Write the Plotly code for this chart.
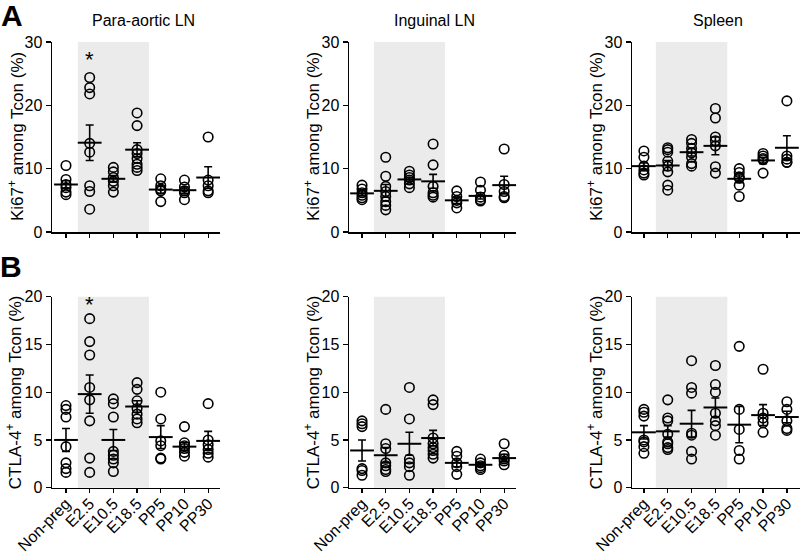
import plotly.graph_objects as go

categories = ["Non-preg", "E2.5", "E10.5", "E18.5", "PP5", "PP10", "PP30"]
tissues = ["Para-aortic LN", "Inguinal LN", "Spleen"]

# Row A: Ki67+ among Tcon (%)
ki67_para = [
    [10.5, 8.3, 7.5, 7.0, 6.3, 5.9],
    [24.4, 22.8, 21.8, 14.0, 12.6, 7.3, 6.4, 3.6],
    [10.2, 9.5, 8.6, 8.0, 7.3, 6.3],
    [18.8, 16.8, 13.0, 12.4, 11.6, 10.7, 10.2, 9.7],
    [8.4, 7.3, 6.8, 6.5, 4.8],
    [8.2, 7.1, 6.5, 6.2, 5.1],
    [15.0, 8.2, 7.3, 6.5, 6.2],
]
ki67_ing = [
    [7.4, 6.8, 6.2, 5.8, 5.4, 5.1],
    [11.8, 8.8, 7.2, 6.4, 5.6, 4.8, 4.2, 3.5],
    [9.6, 9.0, 8.6, 8.2, 7.6, 7.0],
    [13.9, 10.6, 7.2, 6.2, 5.8, 5.5],
    [6.5, 5.6, 5.0, 4.6, 3.8],
    [7.9, 6.6, 5.5, 5.1, 4.9],
    [13.1, 7.5, 6.4, 5.6, 5.4],
]
ki67_spl = [
    [12.8, 11.8, 10.4, 9.8, 9.3, 9.0],
    [13.3, 13.0, 12.6, 11.2, 10.4, 9.5, 7.4, 6.6],
    [14.6, 14.0, 13.2, 12.5, 11.8, 10.8, 10.4],
    [19.5, 18.0, 15.0, 14.4, 13.6, 10.3, 9.3],
    [10.0, 9.4, 8.7, 8.5, 7.4, 5.6],
    [12.4, 12.0, 11.4, 11.6, 9.3],
    [20.7, 12.0, 11.5, 11.0, 11.0],
]
ki67_mean = [
    [7.5, 14.1, 8.4, 13.0, 6.7, 6.6, 8.6],
    [6.1, 6.5, 8.3, 8.0, 5.0, 5.7, 7.4],
    [10.4, 10.5, 12.6, 13.6, 8.4, 11.3, 13.3],
]
ki67_sem = [
    [0.6, 2.8, 0.5, 1.1, 0.6, 0.5, 1.7],
    [0.4, 1.0, 0.3, 1.1, 0.5, 0.5, 1.4],
    [0.5, 0.8, 0.6, 1.4, 0.6, 0.5, 1.9],
]

# Row B: CTLA-4+ among Tcon (%)
ctla_para = [
    [8.6, 8.2, 7.4, 4.3, 2.6, 2.0, 1.6],
    [17.7, 15.3, 13.9, 10.5, 9.2, 7.0, 3.1, 1.6],
    [9.3, 8.8, 7.4, 3.8, 3.4, 3.0, 2.6, 1.7],
    [11.0, 10.3, 9.1, 8.3, 7.7, 7.2, 6.8],
    [10.0, 7.2, 4.9, 4.4, 3.1, 3.0],
    [6.4, 4.7, 4.4, 4.1, 3.7, 3.3],
    [8.8, 5.0, 4.5, 4.0, 3.6, 3.2],
]
ctla_ing = [
    [7.0, 6.7, 6.4, 2.0, 1.8, 1.3],
    [8.2, 4.6, 4.1, 2.6, 2.3, 1.9, 1.7],
    [10.5, 7.2, 3.0, 2.6, 2.2, 1.3],
    [9.2, 8.7, 5.2, 4.6, 4.2, 3.9, 3.5, 3.1],
    [3.8, 3.3, 2.6, 2.2, 1.4],
    [3.0, 2.6, 2.3, 2.1, 1.9],
    [4.6, 3.4, 3.0, 2.8, 2.4],
]
ctla_spl = [
    [8.2, 7.9, 7.5, 5.0, 4.8, 4.3, 3.6],
    [9.2, 7.3, 7.0, 5.6, 4.8, 4.6, 4.2, 4.0],
    [13.3, 10.5, 9.9, 5.7, 5.5, 3.8, 3.0],
    [12.8, 10.8, 10.0, 7.8, 7.0, 6.5, 5.5],
    [14.8, 8.2, 6.1, 3.9, 3.0],
    [12.4, 7.8, 7.3, 6.8, 5.8],
    [9.0, 8.2, 7.0, 6.2, 6.0],
]
ctla_mean = [
    [5.0, 9.8, 5.0, 8.5, 5.3, 4.3, 4.9],
    [3.9, 3.4, 4.6, 5.2, 2.6, 2.4, 3.1],
    [5.8, 5.9, 6.7, 8.4, 6.6, 7.6, 7.4],
]
ctla_sem = [
    [1.2, 2.0, 1.1, 0.6, 1.2, 0.4, 1.0],
    [1.1, 0.8, 1.2, 0.8, 0.4, 0.2, 0.4],
    [0.7, 0.6, 1.4, 1.0, 1.9, 1.1, 0.6],
]

row_a = [ki67_para, ki67_ing, ki67_spl]
row_b = [ctla_para, ctla_ing, ctla_spl]

W, H = 800, 557
FONT = "Liberation Sans, Arial, sans-serif"

# panel geometry in pixels
x_px = [(52, 220), (349, 516), (632, 800)]
x_ranges = [[-0.59, 6.5], [-0.55, 6.5], [-0.5, 6.55]]
y_px = {"A": (42, 232), "B": (296.7, 487.7)}

fig = go.Figure()
layout = dict(width=W, height=H,
              margin=dict(l=0, r=0, t=0, b=0, pad=0, autoexpand=False),
              autosize=False,
              paper_bgcolor="white", plot_bgcolor="white", showlegend=False,
              font=dict(family=FONT, color="black"))
shapes = []
annotations = []

def add_panel(idx, data, means, sems, ymax, dtick, row, col, title):
    xa = "xaxis" if idx == 1 else f"xaxis{idx}"
    ya = "yaxis" if idx == 1 else f"yaxis{idx}"
    xr = "x" if idx == 1 else f"x{idx}"
    yr = "y" if idx == 1 else f"y{idx}"
    px0, px1 = x_px[col]
    py0, py1 = y_px[row]
    layout[xa] = dict(domain=[px0 / W, px1 / W], range=x_ranges[col], anchor=yr,
                      automargin=False,
                      tickvals=list(range(len(categories))), ticktext=categories,
                      showticklabels=(row == "B"), tickangle=-45,
                      ticklabelstandoff=-5,
                      ticks="outside", ticklen=4, tickwidth=1.3, tickcolor="black",
                      showline=True, linecolor="black", linewidth=1.5,
                      showgrid=False, zeroline=False,
                      tickfont=dict(size=16, family=FONT, color="black"))
    layout[ya] = dict(domain=[1 - py1 / H, 1 - py0 / H], range=[0, ymax], anchor=xr,
                      automargin=False,
                      tick0=0, dtick=dtick, ticks="outside", ticklen=5, tickwidth=1.3,
                      tickcolor="black", showline=True, linecolor="black", linewidth=1.5,
                      showgrid=False, zeroline=False,
                      tickfont=dict(size=16, family=FONT, color="black"))
    shapes.append(dict(type="rect", xref=xr, yref=f"{yr} domain", x0=0.5, x1=3.5,
                       y0=0, y1=1, fillcolor="#ebebeb", line=dict(width=0), layer="below"))
    for i, vals in enumerate(data):
        fig.add_trace(go.Scatter(
            x=[i] * len(vals), y=vals, mode="markers", xaxis=xr, yaxis=yr,
            marker=dict(symbol="circle", size=9.5, color="rgba(0,0,0,0)",
                        line=dict(color="black", width=1.6)),
            hoverinfo="skip", cliponaxis=False))
    fig.add_trace(go.Scatter(
        x=list(range(len(categories))), y=means, mode="markers", xaxis=xr, yaxis=yr,
        marker=dict(symbol="line-ew", size=17, line=dict(color="black", width=2)),
        error_y=dict(type="data", array=sems, visible=True, color="black",
                     thickness=1.6, width=4),
        hoverinfo="skip", cliponaxis=False))
    if row == "A":
        cx = (px0 + px1) / 2
        annotations.append(dict(text=title, xref="paper", yref="paper",
                                x=(cx + 7 if col == 0 else cx + 2) / W, y=1 - 20 / H,
                                showarrow=False, font=dict(size=16, family=FONT),
                                xanchor="center", yanchor="middle"))


titles_y = {"A": "Ki67<sup>+</sup> among Tcon (%)", "B": "CTLA-4<sup>+</sup> among Tcon (%)"}

idx = 1
for col in range(3):
    add_panel(idx, row_a[col], ki67_mean[col], ki67_sem[col], 30, 10, "A", col, tissues[col])
    idx += 1
for col in range(3):
    add_panel(idx, row_b[col], ctla_mean[col], ctla_sem[col], 20, 5, "B", col, tissues[col])
    idx += 1

# y-axis titles
title_x = {"A": [16, 312, 595], "B": [14, 312, 595]}
for row in ["A", "B"]:
    py0, py1 = y_px[row]
    for col in range(3):
        annotations.append(dict(text=titles_y[row], xref="paper", yref="paper",
                                x=title_x[row][col] / W, y=1 - ((py0 + py1) / 2) / H,
                                textangle=-90, showarrow=False,
                                font=dict(size=17, family=FONT),
                                xanchor="center", yanchor="middle"))

# panel letters
annotations.append(dict(text="<b>A</b>", xref="paper", yref="paper", x=12 / W, y=1 - 16 / H,
                        showarrow=False, font=dict(size=30, family=FONT),
                        xanchor="center", yanchor="middle"))
annotations.append(dict(text="<b>B</b>", xref="paper", yref="paper", x=11 / W, y=1 - 266 / H,
                        showarrow=False, font=dict(size=30, family=FONT),
                        xanchor="center", yanchor="middle"))

# significance stars
annotations.append(dict(text="*", xref="x", yref="y", x=1, y=27.2, showarrow=False,
                        font=dict(size=22, family=FONT), xanchor="center", yanchor="middle"))
annotations.append(dict(text="*", xref="x4", yref="y4", x=1, y=19.2, showarrow=False,
                        font=dict(size=22, family=FONT), xanchor="center", yanchor="middle"))

layout["shapes"] = shapes
layout["annotations"] = annotations
fig.update_layout(**layout)
fig.write_html("out.html", config={"displayModeBar": False, "staticPlot": True},
               post_script="document.body.style.margin='0';document.body.style.overflow='hidden';")
